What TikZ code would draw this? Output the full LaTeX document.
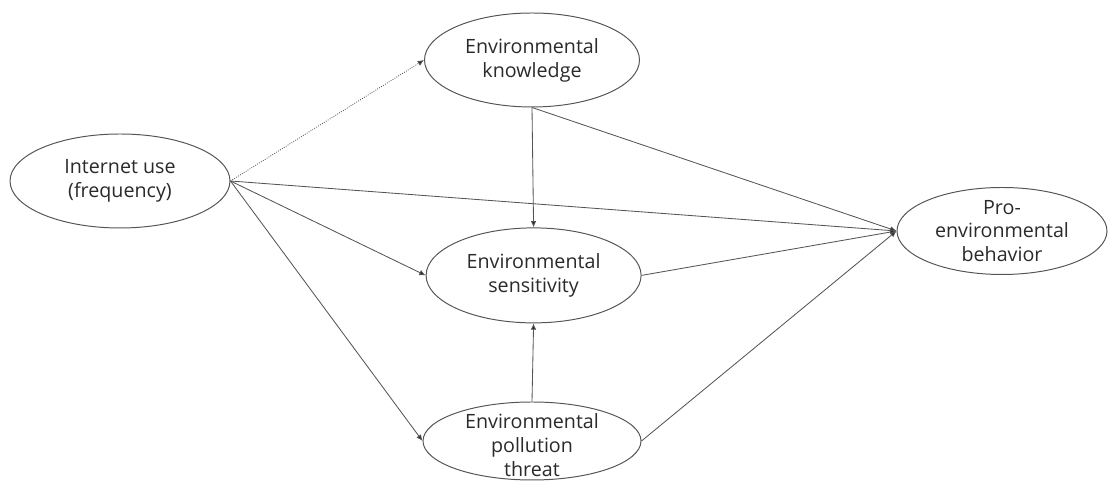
\documentclass[tikz,border=0pt]{standalone}
\usepackage{fontspec}
\setmainfont{Open Sans}
\usetikzlibrary{arrows.meta,shapes.geometric}
\definecolor{inkgray}{HTML}{2A2A2A}
\definecolor{linegray}{HTML}{555555}
\tikzset{
  blob/.style={draw=linegray,line width=0.7pt,ellipse,inner sep=0pt},
  lbl/.style={align=center,text=inkgray,font=\fontsize{14}{17}\selectfont},
  path/.style={draw=linegray,line width=0.6pt,-{Latex[length=4.5pt,width=4pt,fill=black!85]}}
}
\begin{document}
\begin{tikzpicture}
\useasboundingbox (0,0) rectangle (27.725,12.075);
% constructs
\node[blob,minimum width=5.5cm,minimum height=2.35cm] (inet) at (3.0,7.55) {};
\node[blob,minimum width=5.375cm,minimum height=2.35cm] (know) at (13.3,10.575) {};
\node[blob,minimum width=5.375cm,minimum height=2.375cm] (sens) at (13.34,5.19) {};
\node[blob,minimum width=5.45cm,minimum height=1.95cm] (threat) at (13.3,1.05) {};
\node[blob,minimum width=5.25cm,minimum height=2.175cm] (pro) at (25.05,6.3) {};
\node[lbl] (inetT) at (inet) {Internet use\\(frequency)};
\node[lbl] (knowT) at (know) {Environmental\\knowledge};
\node[lbl] (sensT) at (sens) {Environmental\\sensitivity};
\node[lbl] (threatT) at (13.3,0.95) {Environmental\\pollution\\threat};
\node[lbl] (proT) at (pro) {Pro-\\environmental\\behavior};
% paths
\draw[path,densely dotted] (inet.east) -- (know.west);
\draw[path] (inet.east) -- (pro.west);
\draw[path] (inet.east) -- (sens.west);
\draw[path] (inet.east) -- (threat.west);
\draw[path] (know.south) -- (sens.north);
\draw[path] (know.south) -- (pro.west);
\draw[path] (sens.east) -- (pro.west);
\draw[path] (threat.north) -- (sens.south);
\draw[path] (threat.east) -- (pro.west);
\end{tikzpicture}
\end{document}
